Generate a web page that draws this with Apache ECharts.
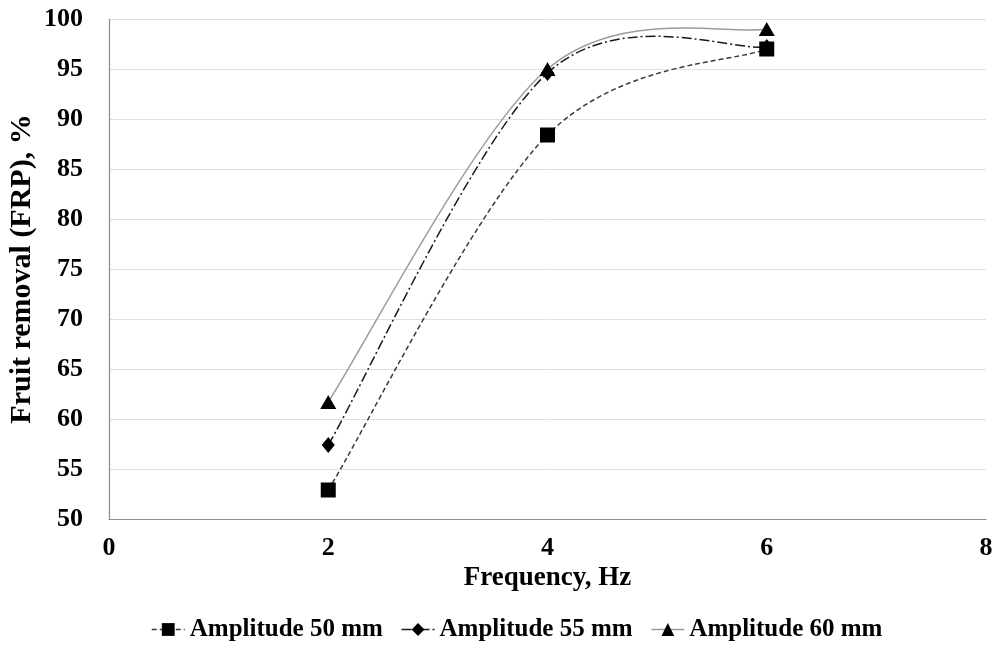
<!DOCTYPE html>
<html><head><meta charset="utf-8">
<script src="https://cdn.jsdelivr.net/npm/echarts@6/dist/echarts.min.js"></script>
<style>html,body{margin:0;padding:0;background:#fff}#c{width:998px;height:647px}</style>
</head><body><div id="c"></div>
<script>
const freq = [2, 4, 6];
const amp50 = [52.9, 88.4, 97.0];
const amp55 = [57.4, 94.6, 97.2];
const amp60 = [61.7, 95.0, 99.0];
const seriesNames = ['Amplitude 50 mm', 'Amplitude 55 mm', 'Amplitude 60 mm'];
const font = '"Liberation Serif", "Times New Roman", serif';

const styles = [
  {color: '#3a3a3a', dash: [5, 3], symbol: 'rect', size: 15},
  {color: '#1a1a1a', dash: [10, 3, 2, 3], symbol: 'diamond', size: [13, 16]},
  {color: '#9c9c9c', dash: null, symbol: 'triangle', size: [16, 14]}
];
const values = [amp50, amp55, amp60];

const chart = echarts.init(document.getElementById('c'));
function pts(ys){ return freq.map((x,i)=>[x, ys[i]]); }

// Excel-like smoothed curve (Catmull-Rom, tension 1/6) through the data points, via axis scales
function curveRenderer(ys, st){
  return function(params, api){
    const p = freq.map((x,i)=>api.coord([x, ys[i]]));
    let d = 'M' + p[0][0] + ' ' + p[0][1];
    for (let i = 0; i < p.length - 1; i++){
      const p0 = p[i-1] || p[i], p1 = p[i], p2 = p[i+1], p3 = p[i+2] || p[i+1];
      const c1 = [p1[0] + (p2[0]-p0[0])/6, p1[1] + (p2[1]-p0[1])/6];
      const c2 = [p2[0] - (p3[0]-p1[0])/6, p2[1] - (p3[1]-p1[1])/6];
      d += ' C' + c1[0] + ' ' + c1[1] + ' ' + c2[0] + ' ' + c2[1] + ' ' + p2[0] + ' ' + p2[1];
    }
    return {type: 'path', shape: {pathData: d},
      style: {fill: 'none', stroke: st.color, lineWidth: 1.5, lineDash: st.dash || undefined}};
  };
}

const series = [];
values.forEach((ys, k)=>{
  series.push({name: 'curve' + k, type: 'custom', coordinateSystem: 'cartesian2d',
    data: [[freq[0], ys[0]]], renderItem: curveRenderer(ys, styles[k]), silent: true, z: 1});
});
values.forEach((ys, k)=>{
  series.push({name: seriesNames[k], type: 'line', data: pts(ys),
    symbol: styles[k].symbol, symbolSize: styles[k].size, z: 3,
    itemStyle: {color: '#000'},
    lineStyle: {opacity: 0}});
});

chart.setOption({
  animation: false,
  grid: {left: 109, right: 12, top: 19, bottom: 128, containLabel: false, outerBoundsMode: 'none'},
  xAxis: {
    type: 'value', min: 0, max: 8, interval: 2,
    name: 'Frequency, Hz', nameLocation: 'middle', nameGap: 46, nameMoveOverlap: false,
    nameTextStyle: {fontFamily: font, fontWeight: 'bold', fontSize: 27, color: '#000'},
    axisLine: {show: true, lineStyle: {color: '#8c8c8c', width: 1.2}},
    axisTick: {show: false},
    splitLine: {show: false},
    axisLabel: {fontFamily: font, fontWeight: 'bold', fontSize: 26, color: '#000', margin: 16}
  },
  yAxis: {
    type: 'value', min: 50, max: 100, interval: 5,
    name: 'Fruit removal (FRP), %', nameLocation: 'middle', nameGap: 72, nameMoveOverlap: false,
    nameTextStyle: {fontFamily: font, fontWeight: 'bold', fontSize: 30, color: '#000'},
    axisLine: {show: true, lineStyle: {color: '#8c8c8c', width: 1.2}},
    axisTick: {show: false},
    splitLine: {lineStyle: {color: '#e0e0e0', width: 1}},
    axisLabel: {fontFamily: font, fontWeight: 'bold', fontSize: 26, color: '#000', margin: 26}
  },
  legend: {
    top: 612, left: 146, itemWidth: 33, itemHeight: 16, itemGap: 18,
    textStyle: {fontFamily: font, fontWeight: 'bold', fontSize: 25, color: '#000'},
    data: seriesNames.map((n, k)=>({name: n,
      lineStyle: {opacity: 1, color: styles[k].color, width: 1.5, type: styles[k].dash || 'solid'}}))
  },
  series: series
});
</script></body></html>
